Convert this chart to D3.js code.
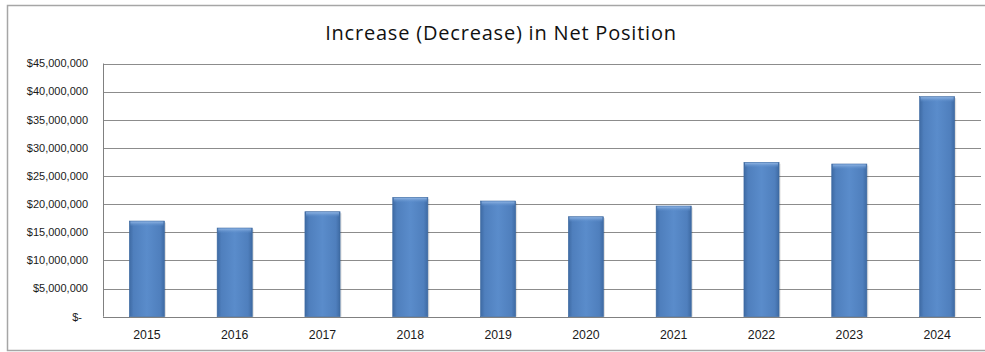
<!DOCTYPE html>
<html>
<head>
<meta charset="utf-8">
<script src="https://cdn.jsdelivr.net/npm/d3@7"></script>
<style>
  body { margin: 0; background: #fff; }
  #plot { width: 985px; height: 352px; }
  text { font-family: "Liberation Sans", Arial, sans-serif; fill: #1a1a1a; }
</style>
</head>
<body>
<div id="plot"></div>
<script>
var years = ["2015", "2016", "2017", "2018", "2019", "2020", "2021", "2022", "2023", "2024"];
var values = [17000000, 15760000, 18660000, 21200000, 20560000, 17770000, 19670000, 27440000, 27140000, 39100000];
var yTicks = [0, 5000000, 10000000, 15000000, 20000000, 25000000, 30000000, 35000000, 40000000, 45000000];
var title = "Increase (Decrease) in Net Position";

var svg = d3.select("#plot")
            .append("svg")
            .attr("width", 985)
            .attr("height", 352);

var view = {
    left: 103,
    right: 981,
    top: 63.5,
    bottom: 316.7
};

// bar shading
var defs = svg.append("defs");
var grad = defs.append("linearGradient")
    .attr("id", "barGrad")
    .attr("x1", "0%").attr("x2", "100%")
    .attr("y1", "0%").attr("y2", "0%");
grad.append("stop").attr("offset", "0%").attr("stop-color", "#3e6aa3");
grad.append("stop").attr("offset", "12%").attr("stop-color", "#4f7fbd");
grad.append("stop").attr("offset", "50%").attr("stop-color", "#5a8ccb");
grad.append("stop").attr("offset", "88%").attr("stop-color", "#4f7fbd");
grad.append("stop").attr("offset", "100%").attr("stop-color", "#3e6aa3");

var topGrad = defs.append("linearGradient")
    .attr("id", "topGrad")
    .attr("x1", "0%").attr("x2", "0%")
    .attr("y1", "0%").attr("y2", "100%");
topGrad.append("stop").attr("offset", "0%").attr("stop-color", "#8fb4e3");
topGrad.append("stop").attr("offset", "100%").attr("stop-color", "#5a8ccb").attr("stop-opacity", 0);

// outer frame
svg.append("rect")
    .attr("x", 7.5)
    .attr("y", 5.5)
    .attr("width", 990)
    .attr("height", 345)
    .style("fill", "#fff")
    .style("stroke", "#a6a6a6")
    .style("stroke-width", 1.5);

svg.append("text")
    .attr("x", 501)
    .attr("y", 39.5)
    .attr("text-anchor", "middle")
    .style("font-family", "'Open Sans', 'Liberation Sans', sans-serif")
    .style("font-size", "20px")
    .style("letter-spacing", "0.8px")
    .style("fill", "#111")
    .text(title);

var xScale = d3.scaleBand()
    .domain(years)
    .range([view.left, view.right])
    .paddingInner(0.6)
    .paddingOuter(0.3);

var yScale = d3.scaleLinear()
    .domain([0, 45000000])
    .range([view.bottom, view.top]);

// gridlines
svg.append("g")
    .selectAll("line")
    .data(yTicks.slice(1))
    .enter().append("line")
    .attr("x1", view.left)
    .attr("x2", view.right)
    .attr("y1", function(d){ return Math.round(yScale(d)) + 0.5; })
    .attr("y2", function(d){ return Math.round(yScale(d)) + 0.5; })
    .style("stroke", "#8c8c8c")
    .style("stroke-width", 1);

// y labels
svg.append("g")
    .selectAll("text")
    .data(yTicks)
    .enter().append("text")
    .attr("x", function(d){ return d === 0 ? 82 : 88; })
    .attr("y", function(d){ return yScale(d); })
    .attr("dy", "0.35em")
    .attr("text-anchor", "end")
    .style("font-size", "11px")
    .text(function(d){ return d === 0 ? "$-" : d3.format("$,")(d); });

// bars
var bars = svg.append("g")
    .selectAll("g")
    .data(values)
    .enter().append("g");

bars.append("rect")
    .attr("x", function(d, i){ return xScale(years[i]) + 1.5; })
    .attr("y", function(d){ return yScale(d) + 1.5; })
    .attr("width", xScale.bandwidth())
    .attr("height", function(d){ return view.bottom - yScale(d) - 1.5; })
    .style("fill", "#000")
    .style("opacity", 0.12);

bars.append("rect")
    .attr("x", function(d, i){ return xScale(years[i]); })
    .attr("y", function(d){ return yScale(d); })
    .attr("width", xScale.bandwidth())
    .attr("height", function(d){ return view.bottom - yScale(d); })
    .style("fill", "url(#barGrad)")
    .style("stroke", "#3d69a1")
    .style("stroke-width", 0.6);

bars.append("rect")
    .attr("x", function(d, i){ return xScale(years[i]) + 1; })
    .attr("y", function(d){ return yScale(d) + 0.5; })
    .attr("width", xScale.bandwidth() - 2)
    .attr("height", 5)
    .style("fill", "url(#topGrad)");

// axes lines
svg.append("line")
    .attr("x1", view.left + 0.5).attr("x2", view.left + 0.5)
    .attr("y1", view.top).attr("y2", view.bottom)
    .style("stroke", "#808080");
svg.append("line")
    .attr("x1", view.left).attr("x2", view.right)
    .attr("y1", Math.round(view.bottom) + 0.5).attr("y2", Math.round(view.bottom) + 0.5)
    .style("stroke", "#808080");

// x labels
svg.append("g")
    .selectAll("text")
    .data(years)
    .enter().append("text")
    .attr("x", function(d){ return xScale(d) + xScale.bandwidth() / 2; })
    .attr("y", 335)
    .attr("dy", "0.35em")
    .attr("text-anchor", "middle")
    .style("font-size", "12.3px")
    .text(function(d){ return d; });
</script>
</body>
</html>
